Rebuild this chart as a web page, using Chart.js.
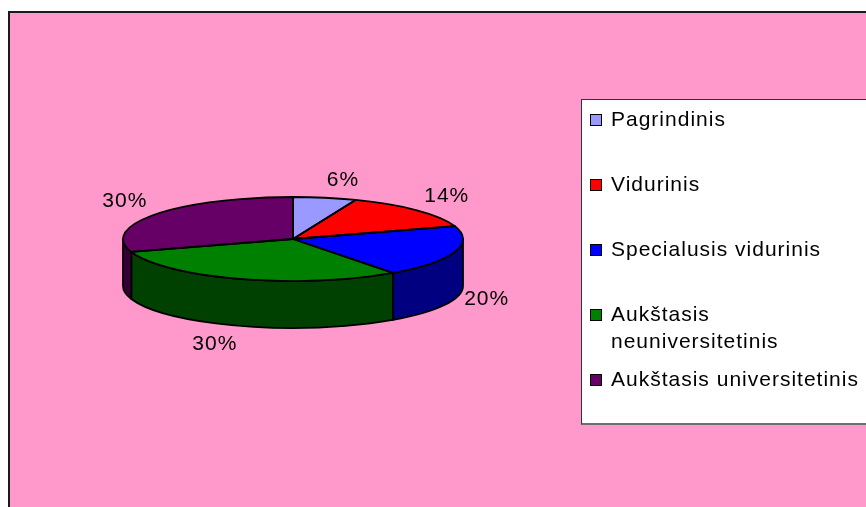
<!DOCTYPE html>
<html>
<head>
<meta charset="utf-8">
<script src="https://cdn.jsdelivr.net/npm/chart.js@4/dist/chart.umd.min.js"></script>
<style>
    html, body {
        margin: 0;
        padding: 0;
        width: 866px;
        height: 507px;
        overflow: hidden;
        background: #ffffff;
        font-family: "Liberation Sans", Arial, sans-serif;
    }
    .frame {
        position: absolute;
        left: 8px;
        top: 11px;
        width: 880px;
        height: 520px;
        background: #FF99CC;
        border-left: 2px solid #1a1a1a;
        border-top: 2px solid #1a1a1a;
    }
    #pieChart {
        position: absolute;
        left: 0;
        top: 0;
    }
    .legend {
        position: absolute;
        left: 581px;
        top: 99px;
        width: 300px;
        height: 326px;
        box-sizing: border-box;
        background: #ffffff;
        border: 1px solid #333333;
        border-bottom: 2px solid #6e6e6e;
        padding: 5px 0 0 8px;
    }
    .legend-item {
        position: relative;
        height: 65px;
        line-height: 27px;
        font-size: 21px;
        letter-spacing: 1px;
        color: #000000;
    }
    .legend-box {
        position: absolute;
        left: 0;
        top: 9px;
        width: 12px;
        height: 12px;
        box-sizing: border-box;
        border: 1px solid #000000;
    }
    .legend-text {
        display: block;
        margin-left: 21px;
        width: 262px;
    }
</style>
</head>
<body>
<div class="frame"></div>
<canvas id="pieChart" width="866" height="507"></canvas>
<div class="legend" id="legend"></div>

<script>
// ============================================
// DATA
// ============================================
const categories = [
    'Pagrindinis',
    'Vidurinis',
    'Specialusis vidurinis',
    'Aukštasis neuniversitetinis',
    'Aukštasis universitetinis'
];
const shares = [6, 14, 20, 30, 30];
const topColors = ['#9999FF', '#FF0000', '#0000FF', '#008000', '#660066'];
const sideColors = ['#4D4D80', '#800000', '#000080', '#004000', '#330033'];

// 3D look of the pie
const PIE_TILT = 0.247;   // vertical squash of the disc
const PIE_DEPTH = 47;     // wall height in px
const LABEL_FONT = '21px "Liberation Sans", Arial, sans-serif';

// ============================================
// LEGEND
// ============================================
function buildLegend() {
    const container = document.getElementById('legend');
    container.innerHTML = categories.map((c, i) => `
        <div class="legend-item">
            <span class="legend-box" style="background:${topColors[i]}"></span>
            <span class="legend-text">${c}</span>
        </div>
    `).join('');
}

// ============================================
// 3D PIE PLUGIN
// ============================================
function ellipseOf(arc) {
    return { cx: arc.x, cy: arc.y, rx: arc.outerRadius, ry: arc.outerRadius * PIE_TILT };
}

const pie3d = {
    id: 'pie3d',
    beforeDatasetsDraw(chart) {
        const ctx = chart.ctx;
        const arcs = chart.getDatasetMeta(0).data;
        if (!arcs.length) return;

        // side walls (only the front half is visible)
        ctx.save();
        ctx.lineWidth = 1.8;
        ctx.lineJoin = 'round';
        ctx.strokeStyle = '#000000';
        arcs.forEach((arc, i) => {
            const { cx, cy, rx, ry } = ellipseOf(arc);
            const a = Math.max(arc.startAngle, 0);
            const b = Math.min(arc.endAngle, Math.PI);
            if (a >= b) return;
            ctx.beginPath();
            ctx.ellipse(cx, cy, rx, ry, 0, a, b);
            ctx.lineTo(cx + rx * Math.cos(b), cy + ry * Math.sin(b) + PIE_DEPTH);
            ctx.ellipse(cx, cy + PIE_DEPTH, rx, ry, 0, b, a, true);
            ctx.closePath();
            ctx.fillStyle = sideColors[i];
            ctx.fill();
            ctx.stroke();
        });
        ctx.restore();

        // squash the top face drawn by Chart.js
        const { cx, cy } = ellipseOf(arcs[0]);
        ctx.save();
        ctx.translate(cx, cy);
        ctx.scale(1, PIE_TILT);
        ctx.translate(-cx, -cy);
    },
    afterDatasetsDraw(chart) {
        const ctx = chart.ctx;
        const arcs = chart.getDatasetMeta(0).data;
        if (!arcs.length) return;
        ctx.restore();

        // outlines of the top face
        ctx.save();
        ctx.lineWidth = 1.8;
        ctx.lineJoin = 'round';
        ctx.strokeStyle = '#000000';
        arcs.forEach(arc => {
            const { cx, cy, rx, ry } = ellipseOf(arc);
            ctx.beginPath();
            ctx.moveTo(cx, cy);
            ctx.ellipse(cx, cy, rx, ry, 0, arc.startAngle, arc.endAngle);
            ctx.closePath();
            ctx.stroke();
        });
        ctx.restore();

        // percentage labels outside the disc
        ctx.save();
        ctx.font = LABEL_FONT;
        ctx.letterSpacing = '1px';
        ctx.fillStyle = '#000000';
        ctx.textAlign = 'center';
        ctx.textBaseline = 'middle';
        arcs.forEach((arc, i) => {
            const { cx, cy, rx, ry } = ellipseOf(arc);
            const mid = (arc.startAngle + arc.endAngle) / 2;
            const c = Math.cos(mid);
            const s = Math.sin(mid);
            const text = shares[i] + '%';
            const hw = ctx.measureText(text).width / 2;
            let x = cx + (rx + 10) * c + Math.sign(c) * hw;
            let y = cy + (ry + 12) * s + Math.sign(s) * 8 + 2;
            if (s > 0) y += PIE_DEPTH * (0.61 + 0.34 * s);
            ctx.fillText(text, x, y);
        });
        ctx.restore();
    }
};

// ============================================
// CHART
// ============================================
function createChart() {
    new Chart(document.getElementById('pieChart'), {
        type: 'pie',
        data: {
            labels: categories,
            datasets: [{
                data: shares,
                backgroundColor: topColors,
                borderWidth: 0,
                hoverOffset: 0,
                clip: false
            }]
        },
        options: {
            responsive: false,
            animation: false,
            events: [],
            layout: {
                padding: { left: 123, right: 403, top: 69, bottom: 98 }
            },
            plugins: {
                legend: { display: false },
                tooltip: { enabled: false }
            }
        },
        plugins: [pie3d]
    });
}

document.addEventListener('DOMContentLoaded', () => {
    buildLegend();
    createChart();
});
</script>
</body>
</html>
